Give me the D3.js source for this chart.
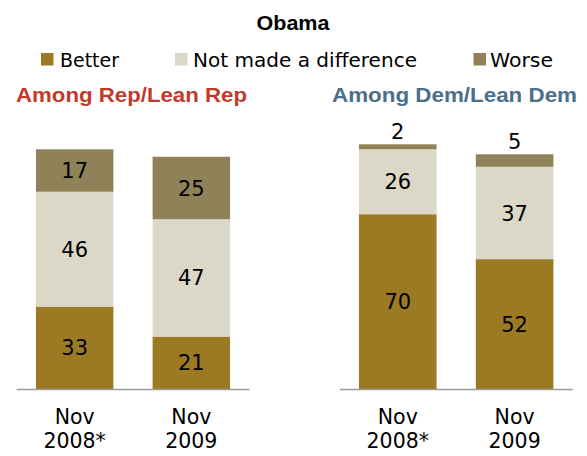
<!DOCTYPE html>
<html>
<head>
<meta charset="utf-8">
<script src="https://cdn.jsdelivr.net/npm/d3@7"></script>
<style>
  html, body { margin: 0; padding: 0; background: #fff; }
  svg { display: block; font-family: "DejaVu Sans", "Liberation Sans", Arial, sans-serif; }
  .bold { font-family: "Liberation Sans", Arial, sans-serif; font-weight: bold; }
</style>
</head>
<body>
<svg id="chart" width="587" height="456"></svg>
<script>
// Survey data: has Obama's election made race relations better / no difference / worse
const periods = [["Nov", "2008*"], ["Nov", "2009"]];
const seriesNames = ["Better", "Not made a difference", "Worse"];
const seriesColors = ["#9c7a24", "#dbd8c7", "#8f8259"];

const repBetter = [33, 21];
const repNoDiff = [46, 47];
const repWorse  = [17, 25];

const demBetter = [70, 52];
const demNoDiff = [26, 37];
const demWorse  = [2, 5];

const panels = [
  { title: "Among Rep/Lean Rep", color: "#c13b2b", series: [repBetter, repNoDiff, repWorse],
    range: [16.7, 249.3], titleX: 16, titleW: 231 },
  { title: "Among Dem/Lean Dem", color: "#4a6f8d", series: [demBetter, demNoDiff, demWorse],
    range: [339.7, 572.7], titleX: 332, titleW: 245 }
];

const svg = d3.select("#chart");

// Title
svg.append("text")
  .attr("class", "bold")
  .attr("x", 293).attr("y", 30)
  .attr("text-anchor", "middle")
  .attr("font-size", 21)
  .attr("textLength", 73)
  .attr("lengthAdjust", "spacingAndGlyphs")
  .attr("fill", "#000")
  .text("Obama");

// Legend
const legendPos = [
  { sx: 41, tx: 60, tw: 59 },
  { sx: 175, tx: 193, tw: 224 },
  { sx: 473.5, tx: 490, tw: 63 }
];
const legend = svg.append("g");
seriesNames.forEach((name, i) => {
  legend.append("rect")
    .attr("x", legendPos[i].sx).attr("y", 53)
    .attr("width", 12.5).attr("height", 12.5)
    .attr("fill", seriesColors[i]);
  legend.append("text")
    .attr("x", legendPos[i].tx).attr("y", 66.5)
    .attr("font-size", 19)
    .attr("textLength", legendPos[i].tw)
    .attr("lengthAdjust", "spacingAndGlyphs")
    .attr("fill", "#000")
    .text(name);
});

// Shared value scale
const y = d3.scaleLinear().domain([0, 100]).range([389, 139.3]);

panels.forEach(panel => {
  const g = svg.append("g");

  g.append("text")
    .attr("class", "bold")
    .attr("x", panel.titleX).attr("y", 101.7)
    .attr("font-size", 20)
    .attr("textLength", panel.titleW)
    .attr("lengthAdjust", "spacingAndGlyphs")
    .attr("fill", panel.color)
    .text(panel.title);

  const x = d3.scaleBand()
    .domain(periods.map((p, i) => i))
    .range(panel.range)
    .paddingInner(0.336)
    .paddingOuter(0.165);

  // Stack rows: one per period
  const rows = periods.map((p, i) => {
    const r = { idx: i };
    seriesNames.forEach((s, k) => { r[s] = panel.series[k][i]; });
    return r;
  });
  const stacked = d3.stack().keys(seriesNames)(rows);

  stacked.forEach((layer, k) => {
    layer.forEach(d => {
      const v = d[1] - d[0];
      const cx = x(d.data.idx) + x.bandwidth() / 2;
      g.append("rect")
        .attr("x", x(d.data.idx))
        .attr("width", x.bandwidth())
        .attr("y", y(d[1]))
        .attr("height", y(d[0]) - y(d[1]))
        .attr("fill", seriesColors[k]);

      const label = g.append("text")
        .attr("x", cx)
        .attr("text-anchor", "middle")
        .attr("font-size", 21)
        .attr("fill", "#000")
        .text(v);
      if (v < 10) {
        // small segments get their label above the bar
        label.attr("y", y(d[1]) - 5);
      } else {
        label.attr("y", (y(d[0]) + y(d[1])) / 2).attr("dy", "0.36em");
      }
    });
  });

  // Baseline
  g.append("line")
    .attr("x1", panel.range[0]).attr("x2", panel.range[1])
    .attr("y1", y(0) + 0.5).attr("y2", y(0) + 0.5)
    .attr("stroke", "#9a9a9a").attr("stroke-width", 1.5);

  // Period labels, two lines each
  periods.forEach((p, i) => {
    const cx = x(i) + x.bandwidth() / 2;
    p.forEach((line, j) => {
      g.append("text")
        .attr("x", cx)
        .attr("y", 424 + j * 24)
        .attr("text-anchor", "middle")
        .attr("font-size", 20.5)
        .attr("fill", "#000")
        .text(line);
    });
  });
});
</script>
</body>
</html>
